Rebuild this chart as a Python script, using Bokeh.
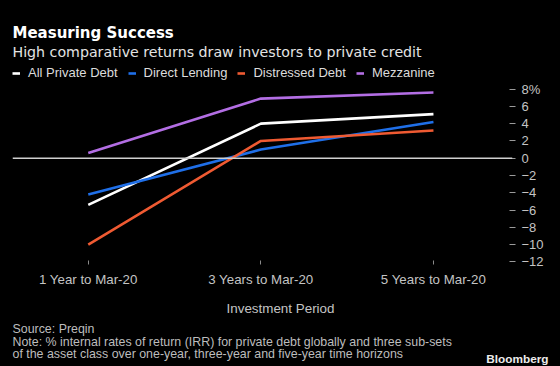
from bokeh.plotting import figure
from bokeh.layouts import column
from bokeh.models import Range1d, FixedTicker, Span, Label, Legend, LegendItem
from bokeh.embed import file_html
from bokeh.resources import INLINE

# ---- data ----
periods = ["1 Year to Mar-20", "3 Years to Mar-20", "5 Years to Mar-20"]
series_names = ["All Private Debt", "Direct Lending", "Distressed Debt", "Mezzanine"]
all_private_debt = [-5.4, 4.0, 5.1]
direct_lending = [-4.2, 1.0, 4.2]
distressed_debt = [-10.0, 2.0, 3.2]
mezzanine = [0.6, 6.9, 7.6]
y_ticks = [-12, -10, -8, -6, -4, -2, 0, 2, 4, 6, 8]
y_tick_labels = {8: "8%"}

title = "Measuring Success"
subtitle = "High comparative returns draw investors to private credit"
x_title = "Investment Period"
source = "Source: Preqin"
note1 = "Note: % internal rates of return (IRR) for private debt globally and three sub-sets"
note2 = "of the asset class over one-year, three-year and five-year time horizons"
brand = "Bloomberg"

colors = ["#ffffff", "#1f6fe8", "#ef5a32", "#b36ee4"]
values = [all_private_debt, direct_lending, distressed_debt, mezzanine]

W = 560
HEAD_H = 80
MAIN_H = 210
FOOT_H = 76
BG = "#000000"

xs = list(range(len(periods)))


def blank_fig(h, y_top):
    f = figure(width=W, height=h, output_backend="svg", toolbar_location=None,
               x_range=Range1d(0, W), y_range=Range1d(y_top + h, y_top),
               x_axis_type=None, y_axis_type=None, frame_align=False,
               min_border_left=0, min_border_right=0, min_border_top=0, min_border_bottom=0)
    f.background_fill_color = BG
    f.border_fill_color = BG
    f.outline_line_color = None
    return f


def lab(f, text, x, y, font, size, color, style="normal", align="left"):
    f.add_layout(Label(x=x, y=y, text=text,
                       text_font=font, text_font_size=size, text_color=color,
                       text_font_style=style, text_align=align,
                       text_baseline="alphabetic"))


# ---- header: title, subtitle, legend ----
head = blank_fig(HEAD_H, 0)
lab(head, title, 12, 32, "DejaVu Sans", "15px", "#ffffff", style="bold")
lab(head, subtitle, 12, 51, "DejaVu Sans", "14.2px", "#e4e4e4")

# legend proxies live on their own (off-frame) ranges so only the legend shows them
head.extra_x_ranges = {"proxy": Range1d(100, 101)}
head.extra_y_ranges = {"proxy": Range1d(100, 101)}
items = []
for name, col, vals in zip(series_names, colors, values):
    proxy = head.line(xs, vals, line_color=col, line_width=2.6,
                      x_range_name="proxy", y_range_name="proxy")
    items.append(LegendItem(label=name, renderers=[proxy]))

legend = Legend(items=items, orientation="horizontal", location=(12, 0),
                glyph_width=8, glyph_height=14, label_height=14,
                label_standoff=8, spacing=10,
                padding=0, margin=0, background_fill_alpha=0, border_line_color=None,
                label_text_font="Liberation Sans", label_text_font_size="13px",
                label_text_color="#dcdcdc")
head.add_layout(legend, "center")

# ---- main chart ----
p = figure(width=W, height=MAIN_H, output_backend="svg", toolbar_location=None,
           x_range=Range1d(-0.439, 2.458), y_range=Range1d(-12.3, 8.3),
           y_axis_location="right", frame_align=False,
           min_border_left=12, min_border_right=48, min_border_top=6, min_border_bottom=26)
p.background_fill_color = BG
p.border_fill_color = BG
p.outline_line_color = None
p.grid.visible = False

xa = p.xaxis[0]
xa.ticker = FixedTicker(ticks=xs)
xa.major_label_overrides = {i: lab_ for i, lab_ in enumerate(periods)}
xa.axis_line_color = None
xa.major_tick_line_color = "#8a8a8a"
xa.major_tick_in = 4
xa.major_tick_out = 0
xa.minor_tick_line_color = None
xa.major_label_standoff = 7
xa.major_label_text_font = "Liberation Sans"
xa.major_label_text_font_size = "13.3px"
xa.major_label_text_color = "#c4c4c4"

ya = p.yaxis[0]
ya.ticker = FixedTicker(ticks=y_ticks)
ya.major_label_overrides = y_tick_labels
ya.axis_line_color = None
ya.major_tick_line_color = "#9a9a9a"
ya.major_tick_in = 3
ya.major_tick_out = 3
ya.minor_tick_line_color = None
ya.major_label_standoff = 6
ya.major_label_text_font = "Liberation Sans"
ya.major_label_text_font_size = "13px"
ya.major_label_text_color = "#c4c4c4"

p.add_layout(Span(location=0, dimension="width", line_color="#cfcfcf", line_width=1.5))

for col, vals in zip(colors, values):
    p.line(xs, vals, line_color=col, line_width=2.6)

# ---- footer ----
foot_top = HEAD_H + MAIN_H
foot = blank_fig(FOOT_H, foot_top)
lab(foot, x_title, 280, 308, "Liberation Sans", "13.4px", "#c4c4c4", align="center")
lab(foot, source, 12, 328, "Liberation Sans", "12.4px", "#bdbdbd")
lab(foot, note1, 12, 341, "Liberation Sans", "12.4px", "#bdbdbd")
lab(foot, note2, 12, 353, "Liberation Sans", "12.4px", "#bdbdbd")
lab(foot, brand, 548, 358, "Liberation Sans", "11.8px", "#ececec", style="bold", align="right")

layout = column(head, p, foot, spacing=0)

TEMPLATE = """{% block preamble %}<style>html, body { margin: 0 !important; padding: 0; background: #000; overflow: hidden; }</style>{% endblock %}
{% block postamble %}<style>html, body { margin: 0 !important; padding: 0; background: #000; overflow: hidden; }</style>{% endblock %}"""

open("out.html", "w").write(file_html(layout, INLINE, template=TEMPLATE))
